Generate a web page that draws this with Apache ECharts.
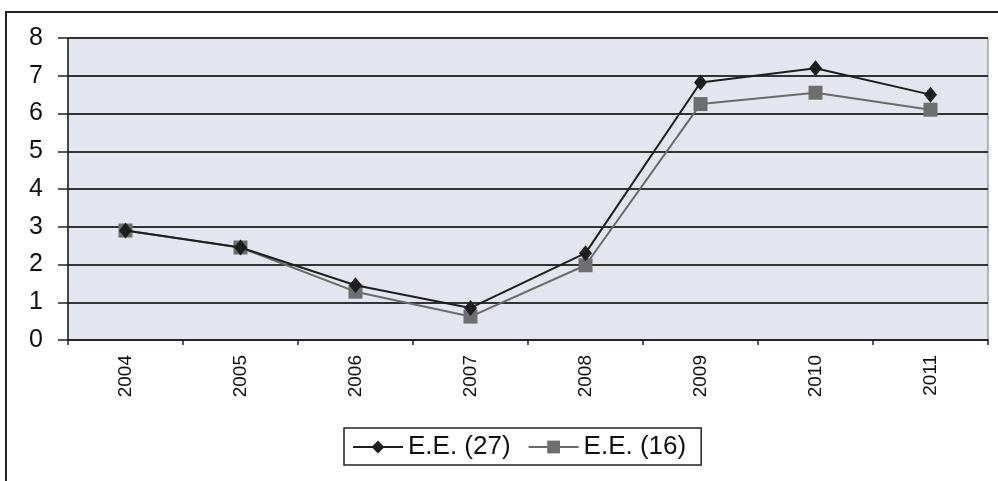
<!DOCTYPE html>
<html><head><meta charset="utf-8">
<script src="https://cdn.jsdelivr.net/npm/echarts@6/dist/echarts.min.js"></script>
<style>html,body{margin:0;padding:0;background:#fff}#c{width:998px;height:481px}</style>
</head><body><div id="c"></div>
<script>
const categories = ['2004','2005','2006','2007','2008','2009','2010','2011'];
const ee27 = [2.9, 2.45, 1.45, 0.85, 2.3, 6.82, 7.2, 6.5];
const ee16 = [2.9, 2.45, 1.28, 0.62, 1.98, 6.25, 6.55, 6.1];
const yTicks = [0,1,2,3,4,5,6,7,8];

const chart = echarts.init(document.getElementById('c'));
chart.setOption({
  animation: false,
  textStyle: {fontFamily: 'Liberation Sans, Arial, sans-serif'},
  graphic: [{type:'rect', shape:{x:6,y:12,width:1000,height:480}, style:{fill:'none', stroke:'#222', lineWidth:2}, silent:true}],
  grid: {left:68, right:10, top:38, bottom:141, show:true, backgroundColor:'#e3e6ee', borderColor:'#777', borderWidth:1},
  legend: {
    left: 344, top: 428,
    padding: [6, 15, 5, 8],
    borderColor: '#222', borderWidth: 1.5, borderRadius: 0,
    itemWidth: 50, itemHeight: 16, itemGap: 17,
    textStyle: {fontSize: 26, color: '#111', fontFamily: 'Liberation Sans, Arial, sans-serif'},
    data: ['E.E. (27)', 'E.E. (16)']
  },
  xAxis: {
    type:'category', data: categories, boundaryGap: true,
    axisLine:{lineStyle:{color:'#222', width:1.5}},
    axisTick:{show:true, length:5, lineStyle:{color:'#222', width:1.5}},
    axisLabel:{rotate:90, fontSize:19, color:'#111', margin:15}
  },
  yAxis: {
    type:'value', min:0, max:8, interval:1,
    axisLine:{show:true, lineStyle:{color:'#222', width:1.5}},
    axisTick:{show:true, length:10, lineStyle:{color:'#222', width:1.5}},
    axisLabel:{fontSize:25, color:'#111', margin:25, formatter: v => yTicks.includes(v) ? String(v) : ''},
    splitLine:{show:true, lineStyle:{color:'#333', width:2}}
  },
  series: [
    {name:'E.E. (27)', type:'line', data: ee27, symbol:'diamond', symbolSize:[13,16],
     lineStyle:{color:'#1e1e1e', width:2}, itemStyle:{color:'#1e1e1e'}, z:3},
    {name:'E.E. (16)', type:'line', data: ee16, symbol:'rect', symbolSize:14,
     lineStyle:{color:'#6a6a6a', width:2}, itemStyle:{color:'#6e6e6e'}, z:2}
  ]
});
</script></body></html>
